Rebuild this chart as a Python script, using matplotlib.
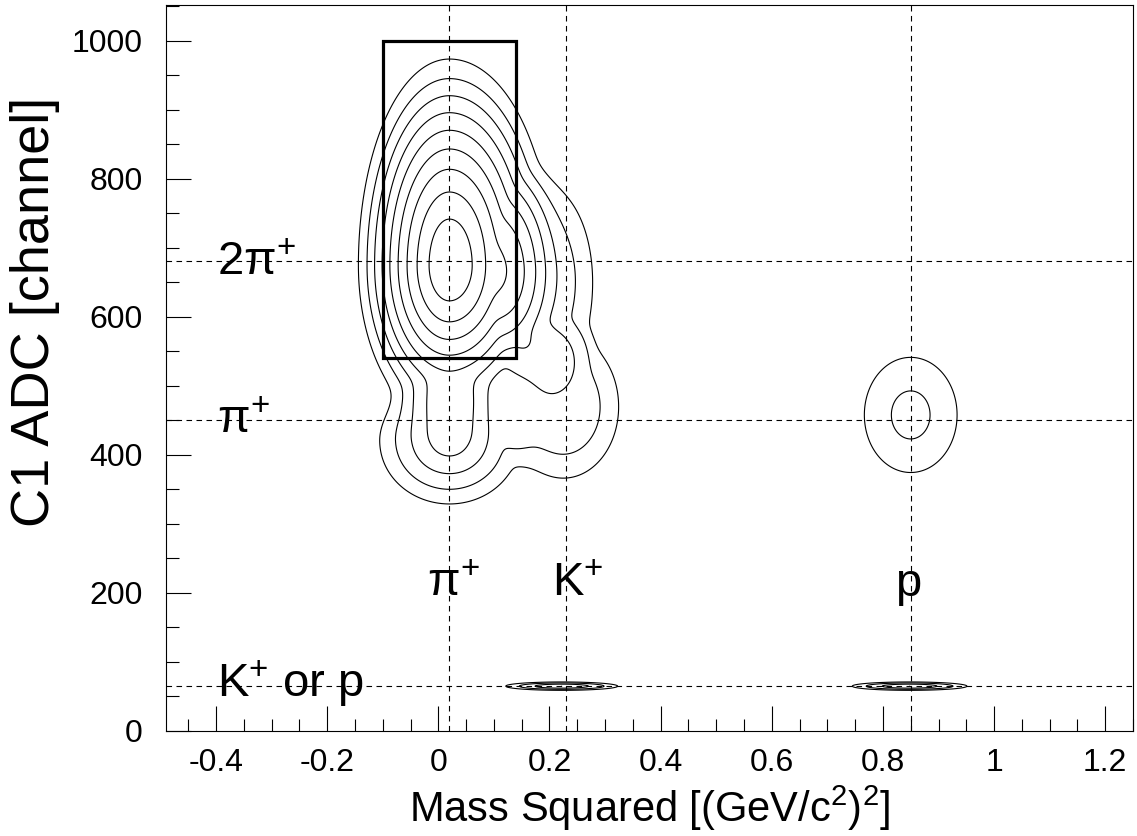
import numpy as np
import matplotlib
matplotlib.use("Agg")
import matplotlib.pyplot as plt
from matplotlib.patches import Rectangle
from matplotlib.ticker import MultipleLocator

plt.rcParams["font.family"] = ["Liberation Sans", "DejaVu Sans"]
plt.rcParams["mathtext.fontset"] = "custom"
plt.rcParams["mathtext.rm"] = "Liberation Sans"
plt.rcParams["mathtext.it"] = "Liberation Sans"

# populations in (m^2, C1 ADC): 2pi, 2pi shoulder, single pi, K, p,
# and the K / p punch-through band at low ADC
peak_m2 = [0.02, 0.2, 0.02, 0.225, 0.85, 0.222, 0.848]
peak_adc = [675, 650, 420, 470, 458, 65, 65]
peak_w_m2_lo = [0.17, 0.1, 0.15, 0.12, 0.117, 0.121, 0.124]
peak_w_m2_hi = [0.19, 0.1, 0.15, 0.12, 0.117, 0.121, 0.124]
peak_w_adc_lo = [240, 180, 109, 125, 117, 7.3, 7.3]
peak_w_adc_hi = [310, 170, 93, 125, 117, 7.3, 7.3]
peak_shape = [1.5, 2.0, 1.35, 2.7, 1.68, 1.5, 1.5]
peak_height = [10.0, 2.5, 4.4, 2.5, 2.3, 4.0, 4.0]
contour_levels = [1, 2, 3, 4, 5, 6, 7, 8, 9]

# reference lines for the particle bands
m2_lines = [0.019, 0.23, 0.85]
adc_lines = [681, 450, 65]
# pion selection cut
cut_m2 = (-0.1, 0.14)
cut_adc = (540, 1000)

m2 = np.arange(-0.49, 1.25, 0.002)
adc = np.arange(0, 1052, 0.5)
X, Y = np.meshgrid(m2, adc)
Z = np.zeros_like(X)
for i in range(len(peak_m2)):
    dx = X - peak_m2[i]
    dy = Y - peak_adc[i]
    wx = np.where(dx < 0, peak_w_m2_lo[i], peak_w_m2_hi[i])
    wy = np.where(dy < 0, peak_w_adc_lo[i], peak_w_adc_hi[i])
    d = np.sqrt((dx / wx) ** 2 + (dy / wy) ** 2)
    # soft-edged dome: flat-ish top falling to zero at d = 1
    Z += peak_height[i] * np.logaddexp(0, 10 * (1 - d ** peak_shape[i])) / 10

fig = plt.figure(figsize=(11.37, 8.36), dpi=100)
ax = fig.add_axes([0.146, 0.1256, 0.8505, 0.8684])

ax.contour(X, Y, Z, levels=contour_levels, colors="black", linewidths=0.8)

for x in m2_lines:
    ax.axvline(x, color="black", lw=0.8, ls=(0, (5, 4)))
for y in adc_lines:
    ax.axhline(y, color="black", lw=0.8, ls=(0, (5, 4)))

ax.add_patch(Rectangle((cut_m2[0], cut_adc[0]), cut_m2[1] - cut_m2[0], cut_adc[1] - cut_adc[0],
                       fill=False, ec="black", lw=2.3, zorder=5))

big = 34
ax.text(-0.398, 661, "2π$^{+}$", fontsize=big)
ax.text(-0.398, 432, "π$^{+}$", fontsize=big)
ax.text(-0.02, 196, "π$^{+}$", fontsize=big)
ax.text(0.205, 196, "K$^{+}$", fontsize=big)
ax.text(0.822, 196, "p", fontsize=big)
ax.text(-0.398, 49, "K$^{+}$ or p", fontsize=big)

ax.set_xlim(-0.49, 1.25)
ax.set_ylim(0, 1052)
ax.xaxis.set_major_locator(MultipleLocator(0.2))
ax.xaxis.set_minor_locator(MultipleLocator(0.05))
ax.yaxis.set_major_locator(MultipleLocator(200))
ax.yaxis.set_minor_locator(MultipleLocator(50))
ax.xaxis.set_major_formatter(lambda v, p: f"{v:g}")
ax.tick_params(which="both", direction="in", top=False, right=False, labelsize=23, width=0.8)
ax.tick_params(which="major", length=18)
ax.tick_params(which="minor", length=9)
ax.tick_params(axis="x", which="major", pad=12)
ax.tick_params(axis="y", which="major", pad=17)
for s in ax.spines.values():
    s.set_linewidth(0.8)

ax.set_xlabel("Mass Squared [(GeV/c$^{2}$)$^{2}$]", fontsize=30, labelpad=4)
# y title sits above the axis centre, as in ROOT
fig.text(0.031, 0.627, "C1 ADC [channel]", fontsize=39, rotation=90, ha="center", va="center")

plt.savefig("out.png", dpi=100)
